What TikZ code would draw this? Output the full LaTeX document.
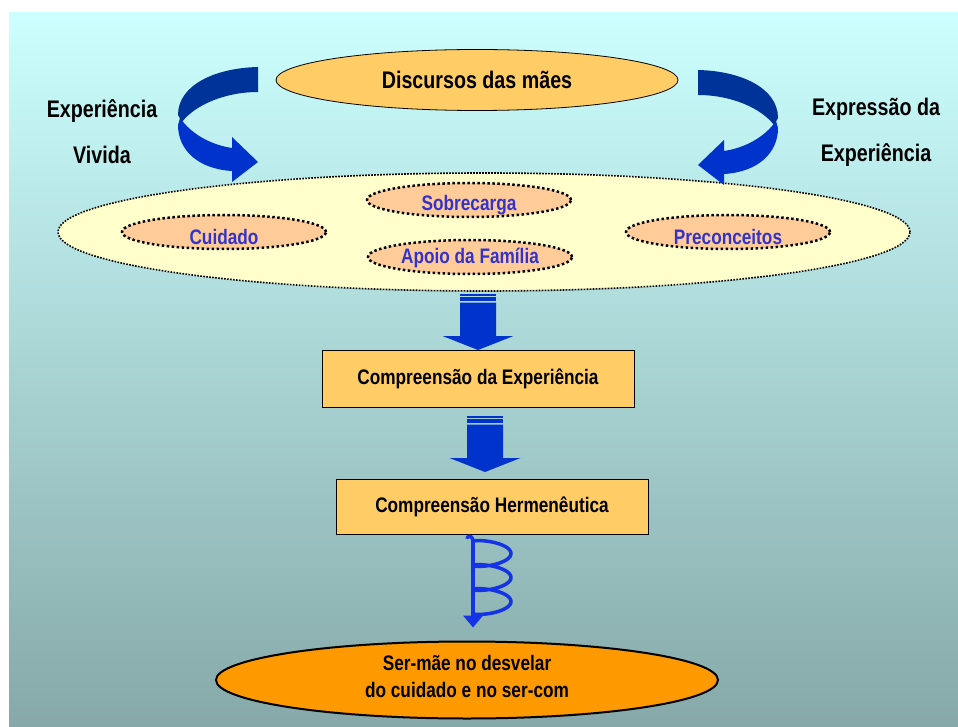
\documentclass[tikz,border=0pt]{standalone}
\usepackage{fontspec}
\setmainfont{Liberation Sans}[FakeStretch=0.82]
\usepackage{tikz}
\usetikzlibrary{positioning}
\usetikzlibrary{calc}
\usetikzlibrary{shapes.geometric}

\definecolor{bgtop}{HTML}{CCFFFF}
\definecolor{bgbottom}{HTML}{86A8A8}
\definecolor{gold}{HTML}{FFCC66}
\definecolor{cream}{HTML}{FFFFCC}
\definecolor{peach}{HTML}{FFCC99}
\definecolor{deeporange}{HTML}{FF9900}
\definecolor{arrowblue}{HTML}{0033CC}
\definecolor{darkblue}{HTML}{003399}
\definecolor{labelblue}{HTML}{3333CC}
\definecolor{spiralblue}{HTML}{1433E6}

\begin{document}
\begin{tikzpicture}[
		x=1pt, y=-1pt,
		sidetext/.style={font=\bfseries\fontsize{24}{46}\selectfont, align=center},
		bigtext/.style={font=\bfseries\fontsize{24}{28}\selectfont, align=center},
		smalltext/.style={font=\bfseries\fontsize{21}{27}\selectfont, align=center},
		bluelbl/.style={font=\bfseries\fontsize{21}{25}\selectfont, text=labelblue, inner sep=0pt},
		topell/.style={ellipse, draw=black, line width=0.8pt, fill=gold,
			minimum width=402pt, minimum height=61pt, inner sep=0pt},
		bigell/.style={ellipse, draw=black, fill=cream, line width=1.6pt,
			dash pattern=on 1.6pt off 1.4pt, minimum width=852pt, minimum height=118pt},
		smallell/.style={ellipse, draw=black, fill=peach, line width=2.5pt,
			dash pattern=on 2.5pt off 2.5pt, minimum width=204pt, minimum height=34pt},
		goldbox/.style={rectangle, draw=black, line width=1pt, fill=gold,
			minimum width=312pt, minimum height=57pt},
		goalell/.style={ellipse, draw=black, line width=2pt, fill=deeporange,
			minimum width=502pt, minimum height=77pt, inner sep=0pt},
		pics/bararrow/.style={code={
			\fill[arrowblue] (-18,-56.3) rectangle (18,-53.7);
			\fill[arrowblue] (-18,-53) rectangle (18,-49);
			\fill[arrowblue] (-18,-47.3) -- (18,-47.3) -- (18,-14) -- (35.5,-14)
				-- (0,0) -- (-35.5,-14) -- (-18,-14) -- cycle;
		}},
		pics/twistarrow/.style={code={
			\fill[arrowblue] (-298,118) .. controls (-286,135) and (-266,145) .. (-246,148)
				-- (-246,137) -- (-220,162) -- (-246,182) -- (-246,171)
				.. controls (-280,169) and (-300,150) .. (-300,125) -- cycle;
			\fill[darkblue] (-220,67) .. controls (-263,68) and (-300,85) .. (-300,115)
				-- (-296,122) .. controls (-283,105) and (-253,92) .. (-220,92) -- cycle;
		}},
		pics/coilarrow/.style={code={
			\draw[spiralblue, line width=4pt] (0,-88) -- (0,-12);
			\draw[spiralblue, line width=3.5pt, line cap=round] (-6,-90) .. controls (-3,-93) and (0,-90) .. (0,-86);
			\draw[spiralblue, line width=3.5pt, line join=round]
				plot[domain=0:1080, samples=200, smooth] ({19*(1-cos(\x))}, {-86+0.0667*\x-5.5*sin(\x)});
			\fill[spiralblue] (-10,-12) -- (10,-12) -- (0,0) -- cycle;
		}}
	]
	\useasboundingbox (0,0) rectangle (958,727);
	% background
	\shade[top color=bgtop, bottom color=bgbottom] (9,13) rectangle (958,727);

	% top part
	\node[topell, bigtext] (discursos) at (477,80) {Discursos das mães};
	\node[sidetext] (vivida) at (102,132) {Experiência\\Vivida};
	\node[sidetext] (expressao) at (876,132) {Expressão da\\Experiência};

	% themes
	\node[bigell] (vivencia) at (484,232) {};
	\node[smallell, label={[bluelbl, yshift=-5pt]center:Sobrecarga}] (sobrecarga) at (469,200) {};
	\node[smallell, label={[bluelbl, yshift=-5pt]center:Cuidado}] (cuidado) at (224,232) {};
	\node[smallell, label={[bluelbl, yshift=-1pt]center:Apoio da Família}] (apoio) at (470,257) {};
	\node[smallell, label={[bluelbl, yshift=-5pt]center:Preconceitos}] (preconceitos) at (728,232) {};

	\pic at (478,0) {twistarrow};
	\pic[xscale=-1] at (478,3) {twistarrow};

	% understanding
	\node[goldbox, smalltext] (compexp) at (478,379) {Compreensão da Experiência};
	\node[goldbox, smalltext, minimum height=55pt] (comphem) at (492,507) {Compreensão Hermenêutica};
	\node[goalell, label={[smalltext, yshift=4pt]center:Ser-mãe no desvelar\\do cuidado e no ser-com}] (sermae) at (467,680) {};

	\pic at (compexp.north) {bararrow};
	\pic at ($(comphem.north)+(-7,-7)$) {bararrow};
	\pic at ($(sermae.north)+(6,-13)$) {coilarrow};
\end{tikzpicture}
\end{document}
